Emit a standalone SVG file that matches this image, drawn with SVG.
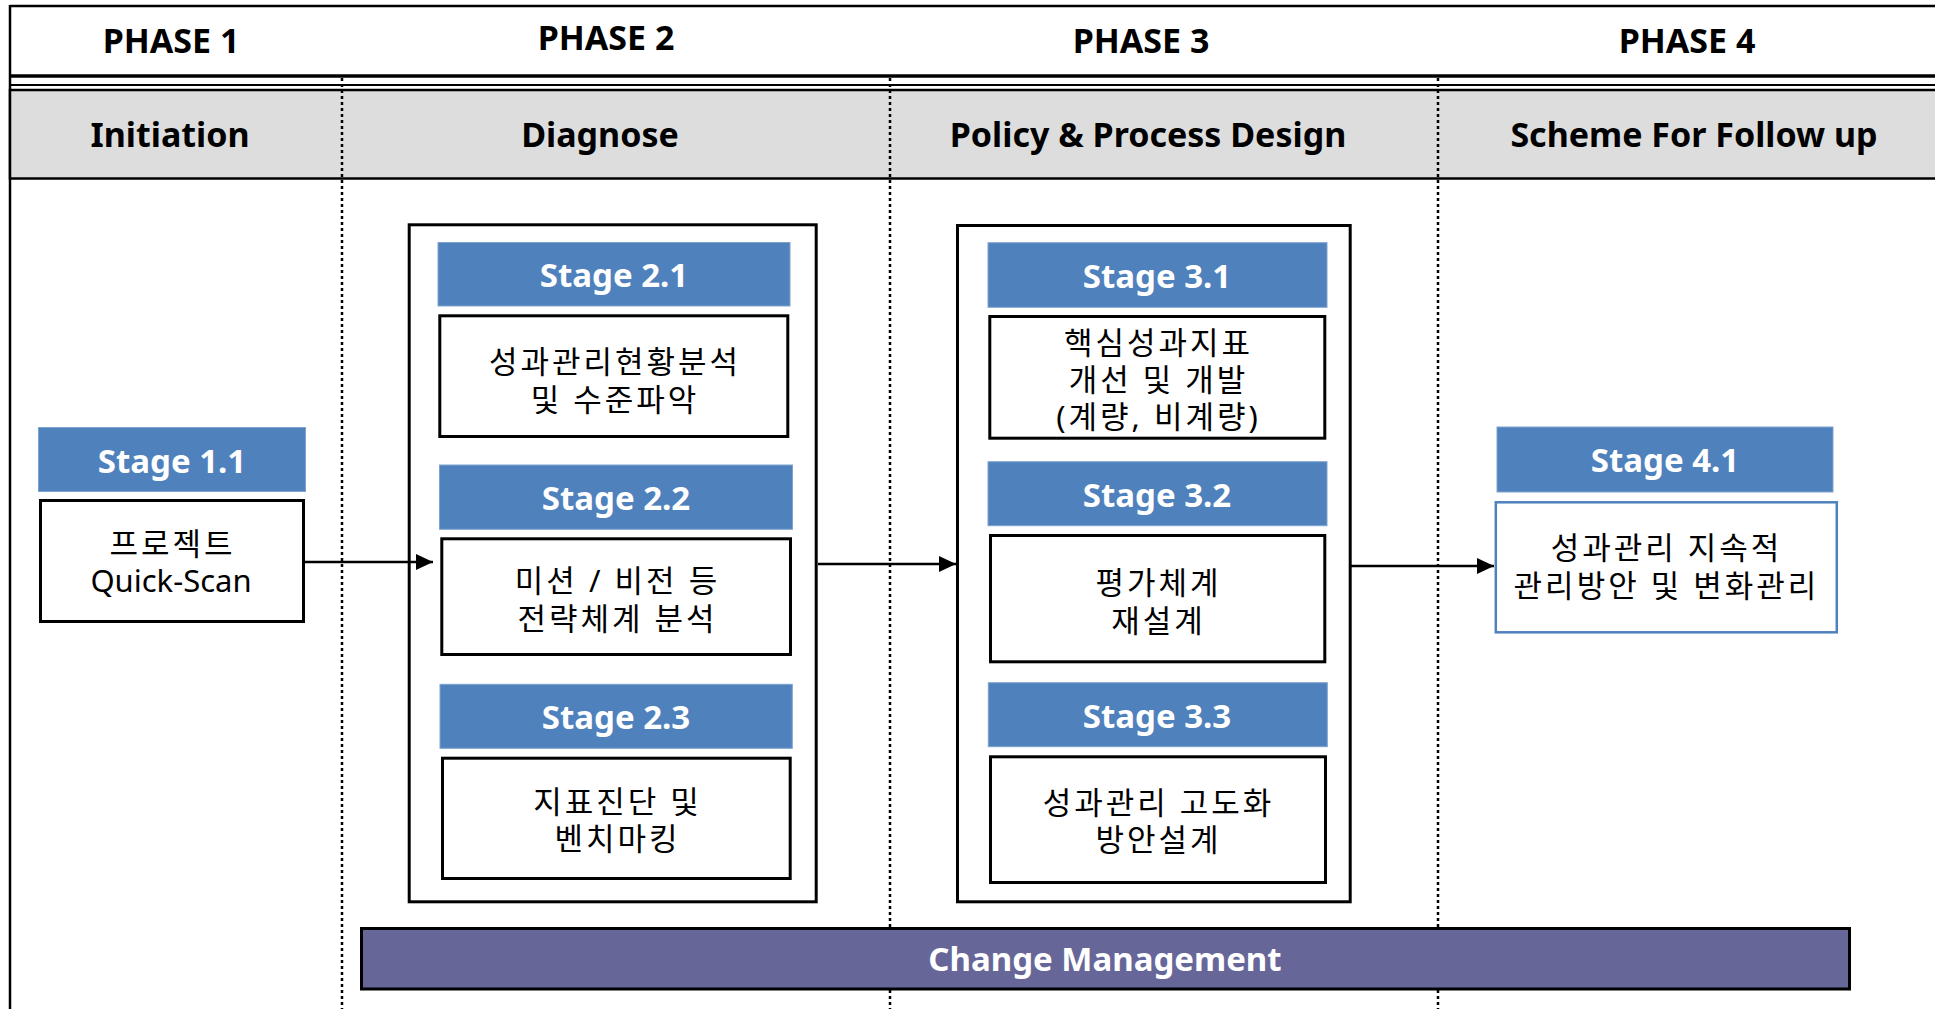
<svg xmlns="http://www.w3.org/2000/svg" width="1935" height="1009" viewBox="0 0 1935 1009">
<defs>
<style>
.hd{font-family:"Noto Sans","Noto Sans CJK KR",sans-serif;font-weight:bold;font-size:34px;fill:#000;text-anchor:middle}
.st{font-family:"Noto Sans","Noto Sans CJK KR",sans-serif;font-weight:bold;font-size:33px;fill:#fff;text-anchor:middle}
.tx{font-family:"Noto Sans","Noto Sans CJK KR",sans-serif;font-size:31px;letter-spacing:3px;fill:#000;text-anchor:middle}
.lt{font-family:"Noto Sans","Noto Sans CJK KR",sans-serif;font-size:31px;fill:#000;text-anchor:middle}
.blue{fill:#4F81BD;stroke:#7FA3CF;stroke-width:1}
.box{fill:#fff;stroke:#000;stroke-width:3}
.outer{fill:#fff;stroke:#000;stroke-width:3}
.dot{stroke:#000;stroke-width:2.5;stroke-dasharray:3 3;fill:none}
.conn{stroke:#000;stroke-width:2.5;fill:none}
</style>
<marker id="ah" markerUnits="userSpaceOnUse" markerWidth="18" markerHeight="16" refX="17" refY="8" orient="auto">
<path d="M0,0 L17,8 L0,16 Z" fill="#000"/>
</marker>
</defs>
<rect width="1935" height="1009" fill="#fff"/>
<g id="frame">
<line x1="10" y1="6" x2="1935" y2="6" stroke="#000" stroke-width="2.5"/>
<line x1="10" y1="5" x2="10" y2="1009" stroke="#000" stroke-width="2.5"/>
<line x1="10" y1="76" x2="1935" y2="76" stroke="#000" stroke-width="3.5"/>
<line x1="10" y1="85" x2="1935" y2="85" stroke="#000" stroke-width="2"/>
<rect x="10" y="90" width="1930" height="88.5" fill="#DDDDDD" stroke="#000" stroke-width="2.5"/>
<line class="dot" x1="342" y1="78" x2="342" y2="1009"/>
<line class="dot" x1="890" y1="78" x2="890" y2="1009"/>
<line class="dot" x1="1438" y1="78" x2="1438" y2="1009"/>
<text class="hd" x="171" y="53">PHASE 1</text>
<text class="hd" x="606" y="50">PHASE 2</text>
<text class="hd" x="1141" y="53">PHASE 3</text>
<text class="hd" x="1687" y="53">PHASE 4</text>
<text class="hd" x="170" y="147">Initiation</text>
<text class="hd" x="600" y="147">Diagnose</text>
<text class="hd" x="1148" y="147">Policy &amp; Process Design</text>
<text class="hd" x="1694" y="147">Scheme For Follow up</text>
</g>
<g id="phase2-box"><rect class="outer" x="409.2" y="224.8" width="407" height="677"/></g>
<g id="phase3-box"><rect class="outer" x="957.5" y="225.5" width="392.7" height="676.3"/></g>
<g id="stage11">
<rect class="blue" x="38.5" y="427.5" width="267" height="64"/>
<text class="st" x="172" y="473">Stage 1.1</text>
<rect class="box" x="40.5" y="500.5" width="263" height="121"/>
<text class="tx" x="172.5" y="555">프로젝트</text>
<text class="lt" x="171" y="592">Quick-Scan</text>
</g>
<g id="stage21">
<rect class="blue" x="438" y="242.5" width="352" height="63.5"/>
<text class="st" x="614" y="287">Stage 2.1</text>
<rect class="box" x="439.8" y="315.8" width="348" height="120.7"/>
<text class="tx" x="615" y="373">성과관리현황분석</text>
<text class="tx" x="615" y="411">및 수준파악</text>
</g>
<g id="stage22">
<rect class="blue" x="439.5" y="465" width="353" height="64.3"/>
<text class="st" x="616" y="510">Stage 2.2</text>
<rect class="box" x="441.8" y="538.8" width="348.7" height="115.7"/>
<text class="tx" x="617.5" y="592">미션 / 비전 등</text>
<text class="tx" x="617.5" y="630">전략체계 분석</text>
</g>
<g id="stage23">
<rect class="blue" x="440" y="684.3" width="352.3" height="64"/>
<text class="st" x="616" y="729">Stage 2.3</text>
<rect class="box" x="442.5" y="758.2" width="347.7" height="120.3"/>
<text class="tx" x="617.5" y="813">지표진단 및</text>
<text class="tx" x="617.5" y="850">벤치마킹</text>
</g>
<g id="stage31">
<rect class="blue" x="988" y="242.7" width="339" height="64.6"/>
<text class="st" x="1157" y="288">Stage 3.1</text>
<rect class="box" x="989.8" y="316.5" width="335" height="121.7"/>
<text class="tx" x="1158.5" y="354">핵심성과지표</text>
<text class="tx" x="1158.5" y="391">개선 및 개발</text>
<text class="tx" x="1158.5" y="428">(계량, 비계량)</text>
</g>
<g id="stage32">
<rect class="blue" x="988" y="461.7" width="339" height="64"/>
<text class="st" x="1157" y="507">Stage 3.2</text>
<rect class="box" x="990.5" y="535.5" width="334.3" height="126.3"/>
<text class="tx" x="1158.5" y="594">평가체계</text>
<text class="tx" x="1158.5" y="632">재설계</text>
</g>
<g id="stage33">
<rect class="blue" x="988.3" y="682.7" width="339" height="64"/>
<text class="st" x="1157" y="728">Stage 3.3</text>
<rect class="box" x="990.5" y="756.8" width="335" height="125.7"/>
<text class="tx" x="1158.5" y="814">성과관리 고도화</text>
<text class="tx" x="1158.5" y="851">방안설계</text>
</g>
<g id="stage41">
<rect class="blue" x="1497" y="427" width="336" height="65"/>
<text class="st" x="1665" y="472">Stage 4.1</text>
<rect x="1495.8" y="502.3" width="341" height="130" fill="#fff" stroke="#4F81BD" stroke-width="2.5"/>
<text class="tx" x="1666.5" y="559">성과관리 지속적</text>
<text class="tx" x="1666.5" y="597">관리방안 및 변화관리</text>
</g>
<g id="change-management">
<rect x="361.5" y="928.5" width="1488" height="60.5" fill="#666699" stroke="#000" stroke-width="3"/>
<text class="st" x="1105" y="971">Change Management</text>
</g>
<g id="connectors">
<line class="conn" x1="305" y1="562" x2="433" y2="562" marker-end="url(#ah)"/>
<line class="conn" x1="818" y1="564" x2="956" y2="564" marker-end="url(#ah)"/>
<line class="conn" x1="1351" y1="566" x2="1494" y2="566" marker-end="url(#ah)"/>
</g>
</svg>
